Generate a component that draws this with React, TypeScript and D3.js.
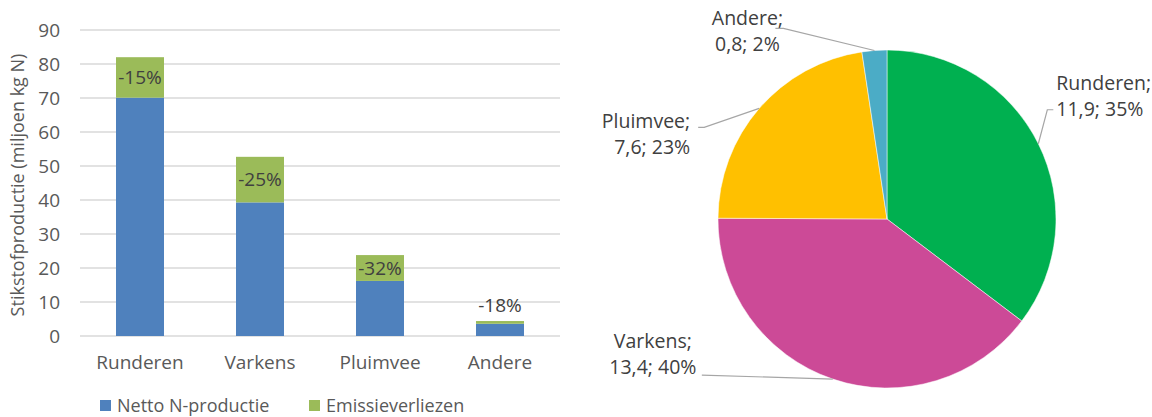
import * as d3 from "d3";

// bar chart data
const categories = ["Runderen", "Varkens", "Pluimvee", "Andere"];
const nettoValues = [70.1, 39.3, 16.2, 3.6];
const emissionValues = [11.9, 13.4, 7.6, 0.8];
const emissionLabels = ["-15%", "-25%", "-32%", "-18%"];
const yTicks = [0, 10, 20, 30, 40, 50, 60, 70, 80, 90];
const seriesNames = ["Netto N-productie", "Emissieverliezen"];

// pie chart labels
const pieValueLabels = ["11,9", "13,4", "7,6", "0,8"];
const piePctLabels = ["35%", "40%", "23%", "2%"];

const barColors = ["#4F81BD", "#9BBB59"];
const pieColors = ["#00B050", "#CC4A97", "#FFC000", "#4BACC6"];
const font = "'Open Sans', 'Liberation Sans', sans-serif";

const width = 1152;
const height = 417;

// bar chart frame
const plot = { left: 80, right: 560, top: 30, bottom: 336 };

// label placement relative to the slice mid point on the rim: text anchor, text offset, elbow
const pieLabelLayout = [
  { anchor: "start", dx: 18, dy: -54, elbow: [[9, -34], [15, -34]] },
  { anchor: "middle", dx: -180, dy: -31, elbow: [[-131, -4]] },
  { anchor: "end", dx: -69, dy: 20, elbow: [[-55, 19], [-61, 19]] },
  { anchor: "middle", dx: -127, dy: -25, elbow: [[-91, -22], [-99, -22]] },
];

export default function App() {
  const x = d3.scaleBand<string>()
    .domain(categories)
    .range([plot.left, plot.right])
    .paddingInner(0.6)
    .paddingOuter(0.3);
  const y = d3.scaleLinear().domain([0, 90]).range([plot.bottom, plot.top]);

  const cx = 887;
  const cy = 219;
  const r = 169;
  const pie = d3.pie<number>().sort(null).value(d => d);
  const arcs = pie(emissionValues);
  const arc = d3.arc<d3.PieArcDatum<number>>().innerRadius(0).outerRadius(r);
  const rim = (a: d3.PieArcDatum<number>) => {
    const m = (a.startAngle + a.endAngle) / 2;
    return [Math.sin(m) * r, -Math.cos(m) * r];
  };

  return (
    <svg width={width} height={height} style={{ position: "absolute", left: 0, top: 0, fontFamily: font }}>
      {/* gridlines */}
      {yTicks.map(t => (
        <g key={t}>
          <line x1={plot.left} x2={plot.right} y1={y(t)} y2={y(t)} stroke="#D9D9D9" strokeWidth={1.3} />
          <text x={60} y={y(t)} dy="0.35em" textAnchor="end" fontSize={19} fill="#595959">{t}</text>
        </g>
      ))}
      <text transform={`translate(24,${(plot.top + plot.bottom) / 2 + 2}) rotate(-90)`} textAnchor="middle" fontSize={18} fill="#595959">
        Stikstofproductie (miljoen kg N)
      </text>

      {/* stacked bars */}
      {categories.map((c, i) => {
        const n = nettoValues[i];
        const tot = n + emissionValues[i];
        const segH = y(n) - y(tot);
        const labelY = segH > 20 ? (y(n) + y(tot)) / 2 : y(tot) - 16;
        return (
          <g key={c}>
            <rect x={x(c)} width={x.bandwidth()} y={y(n)} height={y(0) - y(n)} fill={barColors[0]} />
            <rect x={x(c)} width={x.bandwidth()} y={y(tot)} height={segH} fill={barColors[1]} />
            <text x={x(c)! + x.bandwidth() / 2} y={labelY} dy="0.35em" textAnchor="middle" fontSize={19} fill="#404040">
              {emissionLabels[i]}
            </text>
            <text x={x(c)! + x.bandwidth() / 2} y={362} dy="0.35em" textAnchor="middle" fontSize={19} fill="#595959">{c}</text>
          </g>
        );
      })}

      {/* legend */}
      {seriesNames.map((s, i) => {
        const lx = i === 0 ? 100 : 309;
        return (
          <g key={s}>
            <rect x={lx} y={400} width={11} height={11} fill={barColors[i]} />
            <text x={lx + 17} y={405.5} dy="0.35em" fontSize={18} fill="#595959">{s}</text>
          </g>
        );
      })}

      {/* pie */}
      <g transform={`translate(${cx},${cy})`}>
        {arcs.map((a, i) => (
          <path key={i} d={arc(a)!} fill={pieColors[i]} stroke="#fff" strokeWidth={0.5} />
        ))}
        {arcs.map((a, i) => {
          const [px, py] = rim(a);
          const L = pieLabelLayout[i];
          const pts = [[px, py], ...L.elbow.map(([ex, ey]) => [px + ex, py + ey])];
          return (
            <g key={"l" + i}>
              <polyline points={pts.map(p => p.join(",")).join(" ")} fill="none" stroke="#A6A6A6" strokeWidth={1.2} />
              <text x={px + L.dx} y={py + L.dy} textAnchor={L.anchor} fontSize={19.5} fill="#404040">
                <tspan x={px + L.dx}>{categories[i]};</tspan>
                <tspan x={px + L.dx} dy={26}>{pieValueLabels[i]}; {piePctLabels[i]}</tspan>
              </text>
            </g>
          );
        })}
      </g>
    </svg>
  );
}
